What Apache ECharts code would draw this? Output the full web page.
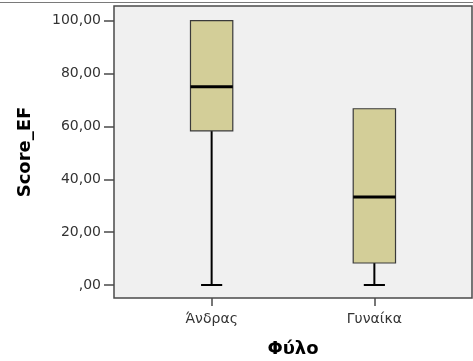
<!DOCTYPE html>
<html>
<head>
<meta charset="utf-8">
<script src="https://cdn.jsdelivr.net/npm/echarts@6/dist/echarts.min.js"></script>
<style>
  html, body { margin: 0; padding: 0; background: #ffffff; }
  #chart { width: 473px; height: 361px; }
</style>
</head>
<body>
<div id="chart"></div>
<script>
// Groups on the horizontal axis
const categories = ['Άνδρας', 'Γυναίκα'];
// Five-number summaries per group
const whiskerLow  = [0, 0];
const quartile1   = [58.33, 8.33];
const medians     = [75, 33.33];
const quartile3   = [100, 66.67];
const whiskerHigh = [100, 66.67];
// Value axis tick positions
const yTicks = [0, 20, 40, 60, 80, 100];

const boxData = categories.map((c, i) => [i, whiskerLow[i], quartile1[i], medians[i], quartile3[i], whiskerHigh[i]]);

// Comma decimals, with the leading zero dropped for 0 (",00")
function fmtTick(v) {
  const s = v.toFixed(2).replace('.', ',');
  return v === 0 ? s.replace(/^0/, '') : s;
}

const FONT = 'DejaVu Sans';
const chart = echarts.init(document.getElementById('chart'), null, { renderer: 'canvas' });

chart.setOption({
  animation: false,
  backgroundColor: '#ffffff',
  graphic: [{
    type: 'line',
    shape: { x1: 0, y1: 2.5, x2: 473, y2: 2.5 },
    style: { stroke: '#7a7a7a', lineWidth: 1 }
  }],
  grid: {
    left: 114, top: 6, width: 358, height: 292,
    containLabel: false, outerBoundsMode: 'none',
    show: true, backgroundColor: '#f0f0f0', borderColor: '#4a4a4a', borderWidth: 1.5
  },
  xAxis: {
    type: 'value', min: -0.6, max: 1.6,
    name: 'Φύλο', nameLocation: 'middle', nameGap: 42,
    nameTextStyle: { fontFamily: FONT, fontWeight: 'bold', fontSize: 18, color: '#000' },
    axisLine: { show: false, onZero: false },
    splitLine: { show: false },
    axisTick: { show: true, length: 8, customValues: [0, 1], lineStyle: { color: '#4a4a4a', width: 1.5 } },
    axisLabel: {
      customValues: [0, 1], margin: 14,
      formatter: v => categories[Math.round(v)],
      fontFamily: FONT, fontSize: 14, color: '#333'
    }
  },
  yAxis: {
    type: 'value', min: -4.92, max: 105.55,
    name: 'Score_EF', nameLocation: 'middle', nameGap: 80, nameRotate: 90,
    nameTextStyle: { fontFamily: FONT, fontWeight: 'bold', fontSize: 18, color: '#000' },
    axisLine: { show: false, onZero: false },
    splitLine: { show: false },
    axisTick: { show: true, length: 10, customValues: yTicks, lineStyle: { color: '#4a4a4a', width: 1.5 } },
    axisLabel: {
      customValues: yTicks, margin: 13,
      formatter: v => fmtTick(v),
      fontFamily: FONT, fontSize: 14, color: '#333'
    }
  },
  series: [{
    type: 'custom',
    data: boxData,
    encode: { x: 0, y: [1, 2, 3, 4, 5] },
    renderItem: function (params, api) {
      const x = api.value(0);
      const pLow = api.coord([x, api.value(1)]);
      const pQ1 = api.coord([x, api.value(2)]);
      const pMed = api.coord([x, api.value(3)]);
      const pQ3 = api.coord([x, api.value(4)]);
      const pHigh = api.coord([x, api.value(5)]);
      const half = api.coord([x + 0.13, 0])[0] - api.coord([x, 0])[0];
      const cx = pQ1[0];
      const children = [];
      const whiskerStyle = { stroke: '#000', lineWidth: 2 };
      if (pLow[1] - pQ1[1] > 0.5) {
        children.push({ type: 'line', shape: { x1: cx, y1: pQ1[1], x2: cx, y2: pLow[1] }, style: whiskerStyle });
        children.push({ type: 'line', shape: { x1: cx - half / 2, y1: pLow[1], x2: cx + half / 2, y2: pLow[1] }, style: whiskerStyle });
      }
      if (pQ3[1] - pHigh[1] > 0.5) {
        children.push({ type: 'line', shape: { x1: cx, y1: pQ3[1], x2: cx, y2: pHigh[1] }, style: whiskerStyle });
        children.push({ type: 'line', shape: { x1: cx - half / 2, y1: pHigh[1], x2: cx + half / 2, y2: pHigh[1] }, style: whiskerStyle });
      }
      children.push({
        type: 'rect',
        shape: { x: cx - half, y: pQ3[1], width: half * 2, height: pQ1[1] - pQ3[1] },
        style: { fill: '#d3ce98', stroke: '#3a3a3a', lineWidth: 1.2 }
      });
      children.push({
        type: 'line',
        shape: { x1: cx - half, y1: pMed[1], x2: cx + half, y2: pMed[1] },
        style: { stroke: '#000', lineWidth: 3 }
      });
      return { type: 'group', children: children };
    }
  }]
});
</script>
</body>
</html>
